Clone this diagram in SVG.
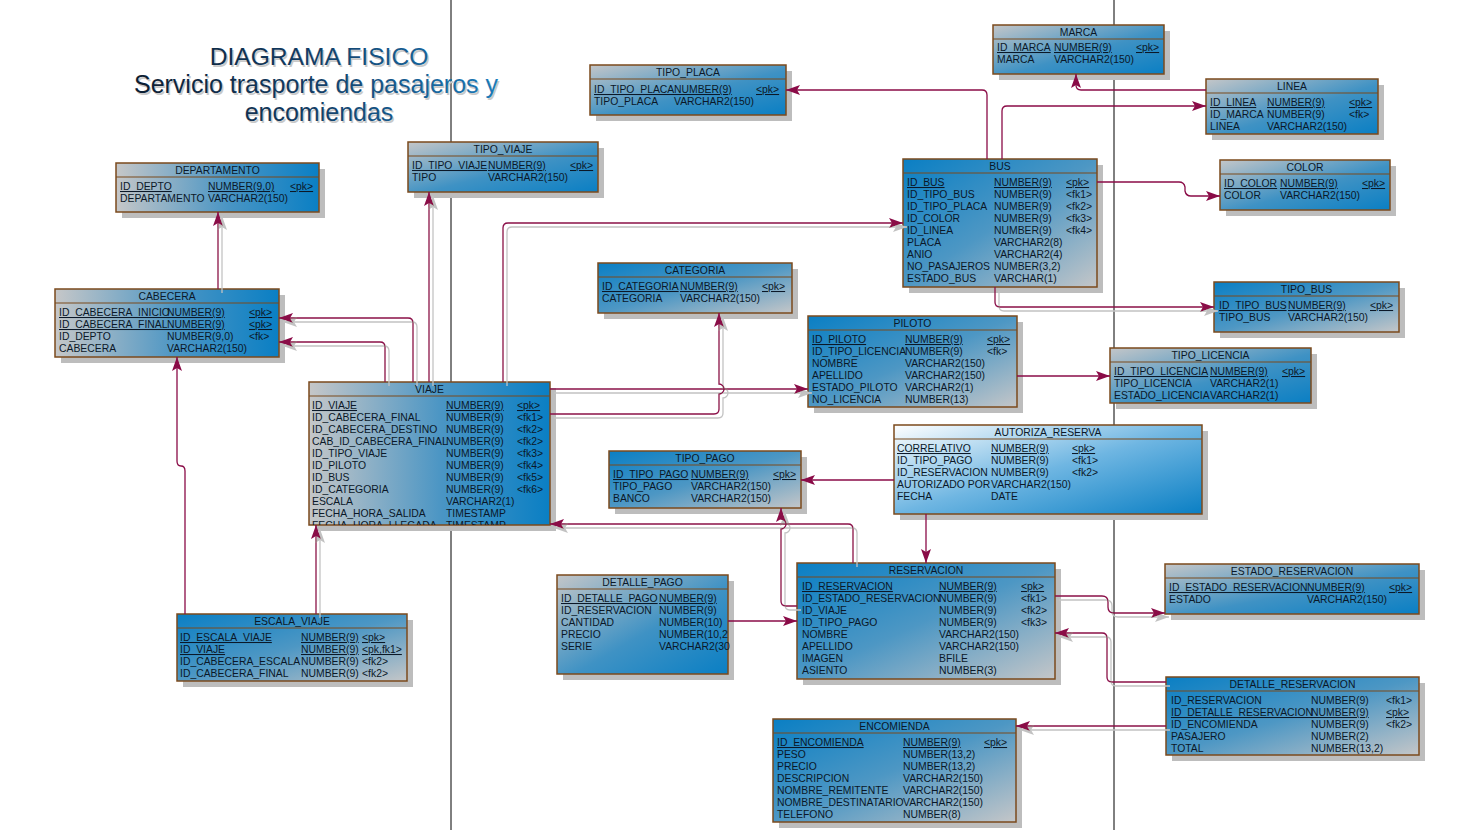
<svg xmlns="http://www.w3.org/2000/svg" width="1474" height="830" viewBox="0 0 1474 830">
<defs>
<style>
.box{stroke:#7b4a1c;stroke-width:1.5}
.sh{fill:#bdbdbd}
.sep{stroke:#7b4a1c;stroke-width:1.2}
text{font-family:"Liberation Sans",Arial,sans-serif;font-size:10.4px;fill:#0b1828}
.hd{text-anchor:middle}
.u{text-decoration:underline}
.cn{fill:none;stroke:#8a0b47;stroke-width:1.3;marker-end:url(#ar)}
.ttl{font-size:24.6px;text-anchor:middle;fill:url(#tg)}
.tsh{font-size:24.6px;text-anchor:middle;fill:#c9c9c9}
</style>
<linearGradient id="gH" x1="0" y1="0" x2="1" y2="0"><stop offset="0" stop-color="#c6c7c8"/><stop offset="0.55" stop-color="#4a95c4"/><stop offset="1" stop-color="#0a7fc4"/></linearGradient>
<linearGradient id="gGB" x1="0" y1="0" x2="1" y2="1"><stop offset="0" stop-color="#c4c6c8"/><stop offset="0.55" stop-color="#3f92c4"/><stop offset="1" stop-color="#0a7fc4"/></linearGradient>
<linearGradient id="gBG" x1="0" y1="0" x2="1" y2="1"><stop offset="0" stop-color="#0a7fc4"/><stop offset="0.5" stop-color="#4d97c4"/><stop offset="1" stop-color="#c4c6c8"/></linearGradient>
<linearGradient id="gW" x1="0" y1="0" x2="1" y2="1"><stop offset="0" stop-color="#ffffff"/><stop offset="0.5" stop-color="#6fb6e2"/><stop offset="1" stop-color="#0a7fc4"/></linearGradient>
<linearGradient id="tg" gradientUnits="userSpaceOnUse" x1="130" y1="0" x2="500" y2="0"><stop offset="0" stop-color="#0b1d30"/><stop offset="0.5" stop-color="#123e66"/><stop offset="1" stop-color="#1a7cbc"/></linearGradient>
<marker id="ar" viewBox="0 0 14 10" refX="14" refY="5" markerWidth="14" markerHeight="10" markerUnits="userSpaceOnUse" orient="auto"><path d="M0,0 L14,5 L0,10 L3,5 Z" fill="#8a0b47"/></marker>
<filter id="lsh" filterUnits="userSpaceOnUse" x="0" y="0" width="1474" height="830">
<feOffset in="SourceAlpha" dx="4" dy="4" result="o"/>
<feFlood flood-color="#c2c2c2"/>
<feComposite in2="o" operator="in" result="s"/>
<feMerge><feMergeNode in="s"/><feMergeNode in="SourceGraphic"/></feMerge>
</filter>
<clipPath id="cv"><rect x="309" y="382" width="241" height="143"/></clipPath>
</defs>
<rect width="1474" height="830" fill="#ffffff"/>
<g id="dividers" stroke="#000" stroke-width="1">
<line x1="451" y1="0" x2="451" y2="830"/>
<line x1="1114" y1="0" x2="1114" y2="830"/>
</g>
<g id="title">
<text class="tsh" x="320.5" y="67">DIAGRAMA FISICO</text>
<text class="tsh" x="317.5" y="95" style="font-size:25px">Servicio trasporte de pasajeros y</text>
<text class="tsh" x="320.5" y="123" style="font-size:25px">encomiendas</text>
<text class="ttl" x="319" y="65">DIAGRAMA FISICO</text>
<text class="ttl" x="316" y="93" style="font-size:25px">Servicio trasporte de pasajeros y</text>
<text class="ttl" x="319" y="121" style="font-size:25px">encomiendas</text>
</g>

<g id="DEPARTAMENTO">
<rect class="sh" x="122" y="169" width="203" height="49"/>
<rect class="box" x="116" y="163" width="203" height="49" fill="url(#gH)"/>
<line class="sep" x1="116" y1="177" x2="319" y2="177"/>
<text class="hd" x="217.5" y="173.5">DEPARTAMENTO</text>
<text class="u" x="120" y="190">ID_DEPTO</text><text class="u" x="208" y="190">NUMBER(9,0)</text><text class="u" x="290" y="190">&lt;pk&gt;</text>
<text x="120" y="202">DEPARTAMENTO</text><text x="208" y="202">VARCHAR2(150)</text>
</g>

<g id="TIPO_VIAJE">
<rect class="sh" x="414" y="148" width="190" height="50"/>
<rect class="box" x="408" y="142" width="190" height="50" fill="url(#gGB)"/>
<line class="sep" x1="408" y1="156" x2="598" y2="156"/>
<text class="hd" x="503" y="152.5">TIPO_VIAJE</text>
<text class="u" x="412" y="169">ID_TIPO_VIAJE</text><text class="u" x="488" y="169">NUMBER(9)</text><text class="u" x="570" y="169">&lt;pk&gt;</text>
<text x="412" y="181">TIPO</text><text x="488" y="181">VARCHAR2(150)</text>
</g>

<g id="TIPO_PLACA">
<rect class="sh" x="596" y="71" width="196" height="50"/>
<rect class="box" x="590" y="65" width="196" height="50" fill="url(#gGB)"/>
<line class="sep" x1="590" y1="79" x2="786" y2="79"/>
<text class="hd" x="688" y="75.5">TIPO_PLACA</text>
<text class="u" x="594" y="93">ID_TIPO_PLACA</text><text class="u" x="674" y="93">NUMBER(9)</text><text class="u" x="756" y="93">&lt;pk&gt;</text>
<text x="594" y="105">TIPO_PLACA</text><text x="674" y="105">VARCHAR2(150)</text>
</g>

<g id="MARCA">
<rect class="sh" x="999" y="31" width="171" height="49"/>
<rect class="box" x="993" y="25" width="171" height="49" fill="url(#gGB)"/>
<line class="sep" x1="993" y1="39" x2="1164" y2="39"/>
<text class="hd" x="1078.5" y="35.5">MARCA</text>
<text class="u" x="997" y="51">ID_MARCA</text><text class="u" x="1054" y="51">NUMBER(9)</text><text class="u" x="1136" y="51">&lt;pk&gt;</text>
<text x="997" y="63">MARCA</text><text x="1054" y="63">VARCHAR2(150)</text>
</g>

<g id="LINEA">
<rect class="sh" x="1212" y="85" width="172" height="55"/>
<rect class="box" x="1206" y="79" width="172" height="55" fill="url(#gGB)"/>
<line class="sep" x1="1206" y1="93" x2="1378" y2="93"/>
<text class="hd" x="1292" y="89.5">LINEA</text>
<text class="u" x="1210" y="106">ID_LINEA</text><text class="u" x="1267" y="106">NUMBER(9)</text><text class="u" x="1349" y="106">&lt;pk&gt;</text>
<text x="1210" y="118">ID_MARCA</text><text x="1267" y="118">NUMBER(9)</text><text x="1349" y="118">&lt;fk&gt;</text>
<text x="1210" y="130">LINEA</text><text x="1267" y="130">VARCHAR2(150)</text>
</g>

<g id="BUS">
<rect class="sh" x="909" y="165" width="194" height="128"/>
<rect class="box" x="903" y="159" width="194" height="128" fill="url(#gBG)"/>
<line class="sep" x1="903" y1="173" x2="1097" y2="173"/>
<text class="hd" x="1000" y="169.5">BUS</text>
<text class="u" x="907" y="186">ID_BUS</text><text class="u" x="994" y="186">NUMBER(9)</text><text class="u" x="1066" y="186">&lt;pk&gt;</text>
<text x="907" y="198">ID_TIPO_BUS</text><text x="994" y="198">NUMBER(9)</text><text x="1066" y="198">&lt;fk1&gt;</text>
<text x="907" y="210">ID_TIPO_PLACA</text><text x="994" y="210">NUMBER(9)</text><text x="1066" y="210">&lt;fk2&gt;</text>
<text x="907" y="222">ID_COLOR</text><text x="994" y="222">NUMBER(9)</text><text x="1066" y="222">&lt;fk3&gt;</text>
<text x="907" y="234">ID_LINEA</text><text x="994" y="234">NUMBER(9)</text><text x="1066" y="234">&lt;fk4&gt;</text>
<text x="907" y="246">PLACA</text><text x="994" y="246">VARCHAR2(8)</text>
<text x="907" y="258">ANIO</text><text x="994" y="258">VARCHAR2(4)</text>
<text x="907" y="270">NO_PASAJEROS</text><text x="994" y="270">NUMBER(3,2)</text>
<text x="907" y="282">ESTADO_BUS</text><text x="994" y="282">VARCHAR(1)</text>
</g>

<g id="COLOR">
<rect class="sh" x="1226" y="166" width="170" height="50"/>
<rect class="box" x="1220" y="160" width="170" height="50" fill="url(#gGB)"/>
<line class="sep" x1="1220" y1="174" x2="1390" y2="174"/>
<text class="hd" x="1305" y="170.5">COLOR</text>
<text class="u" x="1224" y="187">ID_COLOR</text><text class="u" x="1280" y="187">NUMBER(9)</text><text class="u" x="1362" y="187">&lt;pk&gt;</text>
<text x="1224" y="199">COLOR</text><text x="1280" y="199">VARCHAR2(150)</text>
</g>

<g id="TIPO_BUS">
<rect class="sh" x="1220" y="288" width="185" height="50"/>
<rect class="box" x="1214" y="282" width="185" height="50" fill="url(#gBG)"/>
<line class="sep" x1="1214" y1="296" x2="1399" y2="296"/>
<text class="hd" x="1306.5" y="292.5">TIPO_BUS</text>
<text class="u" x="1219" y="309">ID_TIPO_BUS</text><text class="u" x="1288" y="309">NUMBER(9)</text><text class="u" x="1370" y="309">&lt;pk&gt;</text>
<text x="1219" y="321">TIPO_BUS</text><text x="1288" y="321">VARCHAR2(150)</text>
</g>

<g id="TIPO_LICENCIA">
<rect class="sh" x="1116" y="354" width="201" height="55"/>
<rect class="box" x="1110" y="348" width="201" height="55" fill="url(#gGB)"/>
<line class="sep" x1="1110" y1="362" x2="1311" y2="362"/>
<text class="hd" x="1210.5" y="358.5">TIPO_LICENCIA</text>
<text class="u" x="1114" y="375">ID_TIPO_LICENCIA</text><text class="u" x="1210" y="375">NUMBER(9)</text><text class="u" x="1282" y="375">&lt;pk&gt;</text>
<text x="1114" y="387">TIPO_LICENCIA</text><text x="1210" y="387">VARCHAR2(1)</text>
<text x="1114" y="399">ESTADO_LICENCIA</text><text x="1210" y="399">VARCHAR2(1)</text>
</g>

<g id="CATEGORIA">
<rect class="sh" x="604" y="269" width="194" height="50"/>
<rect class="box" x="598" y="263" width="194" height="50" fill="url(#gBG)"/>
<line class="sep" x1="598" y1="277" x2="792" y2="277"/>
<text class="hd" x="695" y="273.5">CATEGORIA</text>
<text class="u" x="602" y="290">ID_CATEGORIA</text><text class="u" x="680" y="290">NUMBER(9)</text><text class="u" x="762" y="290">&lt;pk&gt;</text>
<text x="602" y="302">CATEGORIA</text><text x="680" y="302">VARCHAR2(150)</text>
</g>

<g id="PILOTO">
<rect class="sh" x="814" y="322" width="209" height="91"/>
<rect class="box" x="808" y="316" width="209" height="91" fill="url(#gBG)"/>
<line class="sep" x1="808" y1="330" x2="1017" y2="330"/>
<text class="hd" x="912.5" y="326.5">PILOTO</text>
<text class="u" x="812" y="343">ID_PILOTO</text><text class="u" x="905" y="343">NUMBER(9)</text><text class="u" x="987" y="343">&lt;pk&gt;</text>
<text x="812" y="355">ID_TIPO_LICENCIA</text><text x="905" y="355">NUMBER(9)</text><text x="987" y="355">&lt;fk&gt;</text>
<text x="812" y="367">NOMBRE</text><text x="905" y="367">VARCHAR2(150)</text>
<text x="812" y="379">APELLIDO</text><text x="905" y="379">VARCHAR2(150)</text>
<text x="812" y="391">ESTADO_PILOTO</text><text x="905" y="391">VARCHAR2(1)</text>
<text x="812" y="403">NO_LICENCIA</text><text x="905" y="403">NUMBER(13)</text>
</g>

<g id="CABECERA">
<rect class="sh" x="61" y="295" width="224" height="68"/>
<rect class="box" x="55" y="289" width="224" height="68" fill="url(#gH)"/>
<line class="sep" x1="55" y1="303" x2="279" y2="303"/>
<text class="hd" x="167" y="299.5">CABECERA</text>
<text class="u" x="59" y="316">ID_CABECERA_INICIO</text><text class="u" x="167" y="316">NUMBER(9)</text><text class="u" x="249" y="316">&lt;pk&gt;</text>
<text class="u" x="59" y="328">ID_CABECERA_FINAL</text><text class="u" x="167" y="328">NUMBER(9)</text><text class="u" x="249" y="328">&lt;pk&gt;</text>
<text x="59" y="340">ID_DEPTO</text><text x="167" y="340">NUMBER(9,0)</text><text x="249" y="340">&lt;fk&gt;</text>
<text x="59" y="352">CABECERA</text><text x="167" y="352">VARCHAR2(150)</text>
</g>

<g id="VIAJE">
<rect class="sh" x="315" y="388" width="241" height="143"/>
<rect class="box" x="309" y="382" width="241" height="143" fill="url(#gH)"/>
<line class="sep" x1="309" y1="396" x2="550" y2="396"/>
<text class="hd" x="429.5" y="392.5">VIAJE</text>
<text class="u" x="312" y="409">ID_VIAJE</text><text class="u" x="446" y="409">NUMBER(9)</text><text class="u" x="517" y="409">&lt;pk&gt;</text>
<text x="312" y="421">ID_CABECERA_FINAL</text><text x="446" y="421">NUMBER(9)</text><text x="517" y="421">&lt;fk1&gt;</text>
<text x="312" y="433">ID_CABECERA_DESTINO</text><text x="446" y="433">NUMBER(9)</text><text x="517" y="433">&lt;fk2&gt;</text>
<text x="312" y="445">CAB_ID_CABECERA_FINAL</text><text x="446" y="445">NUMBER(9)</text><text x="517" y="445">&lt;fk2&gt;</text>
<text x="312" y="457">ID_TIPO_VIAJE</text><text x="446" y="457">NUMBER(9)</text><text x="517" y="457">&lt;fk3&gt;</text>
<text x="312" y="469">ID_PILOTO</text><text x="446" y="469">NUMBER(9)</text><text x="517" y="469">&lt;fk4&gt;</text>
<text x="312" y="481">ID_BUS</text><text x="446" y="481">NUMBER(9)</text><text x="517" y="481">&lt;fk5&gt;</text>
<text x="312" y="493">ID_CATEGORIA</text><text x="446" y="493">NUMBER(9)</text><text x="517" y="493">&lt;fk6&gt;</text>
<text x="312" y="505">ESCALA</text><text x="446" y="505">VARCHAR2(1)</text>
<text x="312" y="517">FECHA_HORA_SALIDA</text><text x="446" y="517">TIMESTAMP</text>
<g clip-path="url(#cv)"><text x="312" y="529">FECHA_HORA_LLEGADA</text><text x="446" y="529">TIMESTAMP</text></g>
</g>

<g id="TIPO_PAGO">
<rect class="sh" x="615" y="457" width="192" height="57"/>
<rect class="box" x="609" y="451" width="192" height="57" fill="url(#gBG)"/>
<line class="sep" x1="609" y1="465" x2="801" y2="465"/>
<text class="hd" x="705" y="461.5">TIPO_PAGO</text>
<text class="u" x="613" y="478">ID_TIPO_PAGO</text><text class="u" x="691" y="478">NUMBER(9)</text><text class="u" x="773" y="478">&lt;pk&gt;</text>
<text x="613" y="490">TIPO_PAGO</text><text x="691" y="490">VARCHAR2(150)</text>
<text x="613" y="502">BANCO</text><text x="691" y="502">VARCHAR2(150)</text>
</g>

<g id="AUTORIZA_RESERVA">
<rect class="sh" x="900" y="431" width="308" height="89"/>
<rect class="box" x="894" y="425" width="308" height="89" fill="url(#gW)"/>
<line class="sep" x1="894" y1="439" x2="1202" y2="439"/>
<text class="hd" x="1048" y="435.5">AUTORIZA_RESERVA</text>
<text class="u" x="897" y="452">CORRELATIVO</text><text class="u" x="991" y="452">NUMBER(9)</text><text class="u" x="1072" y="452">&lt;pk&gt;</text>
<text x="897" y="464">ID_TIPO_PAGO</text><text x="991" y="464">NUMBER(9)</text><text x="1072" y="464">&lt;fk1&gt;</text>
<text x="897" y="476">ID_RESERVACION</text><text x="991" y="476">NUMBER(9)</text><text x="1072" y="476">&lt;fk2&gt;</text>
<text x="897" y="488">AUTORIZADO POR</text><text x="991" y="488">VARCHAR2(150)</text>
<text x="897" y="500">FECHA</text><text x="991" y="500">DATE</text>
</g>

<g id="DETALLE_PAGO">
<rect class="sh" x="563" y="581" width="171" height="99"/>
<rect class="box" x="557" y="575" width="171" height="99" fill="url(#gGB)"/>
<line class="sep" x1="557" y1="589" x2="728" y2="589"/>
<text class="hd" x="642.5" y="585.5">DETALLE_PAGO</text>
<text class="u" x="561" y="602">ID_DETALLE_PAGO</text><text class="u" x="659" y="602">NUMBER(9)</text>
<text x="561" y="614">ID_RESERVACION</text><text x="659" y="614">NUMBER(9)</text>
<text x="561" y="626">CANTIDAD</text><text x="659" y="626">NUMBER(10)</text>
<text x="561" y="638">PRECIO</text><text x="659" y="638">NUMBER(10,2</text>
<text x="561" y="650">SERIE</text><text x="659" y="650">VARCHAR2(30</text>
</g>

<g id="RESERVACION">
<rect class="sh" x="803" y="569" width="258" height="116"/>
<rect class="box" x="797" y="563" width="258" height="116" fill="url(#gBG)"/>
<line class="sep" x1="797" y1="577" x2="1055" y2="577"/>
<text class="hd" x="926" y="573.5">RESERVACION</text>
<text class="u" x="802" y="590">ID_RESERVACION</text><text class="u" x="939" y="590">NUMBER(9)</text><text class="u" x="1021" y="590">&lt;pk&gt;</text>
<text x="802" y="602">ID_ESTADO_RESERVACION</text><text x="939" y="602">NUMBER(9)</text><text x="1021" y="602">&lt;fk1&gt;</text>
<text x="802" y="614">ID_VIAJE</text><text x="939" y="614">NUMBER(9)</text><text x="1021" y="614">&lt;fk2&gt;</text>
<text x="802" y="626">ID_TIPO_PAGO</text><text x="939" y="626">NUMBER(9)</text><text x="1021" y="626">&lt;fk3&gt;</text>
<text x="802" y="638">NOMBRE</text><text x="939" y="638">VARCHAR2(150)</text>
<text x="802" y="650">APELLIDO</text><text x="939" y="650">VARCHAR2(150)</text>
<text x="802" y="662">IMAGEN</text><text x="939" y="662">BFILE</text>
<text x="802" y="674">ASIENTO</text><text x="939" y="674">NUMBER(3)</text>
</g>

<g id="ESTADO_RESERVACION">
<rect class="sh" x="1171" y="570" width="254" height="50"/>
<rect class="box" x="1165" y="564" width="254" height="50" fill="url(#gGB)"/>
<line class="sep" x1="1165" y1="578" x2="1419" y2="578"/>
<text class="hd" x="1292" y="574.5">ESTADO_RESERVACION</text>
<text class="u" x="1169" y="591">ID_ESTADO_RESERVACION</text><text class="u" x="1307" y="591">NUMBER(9)</text><text class="u" x="1389" y="591">&lt;pk&gt;</text>
<text x="1169" y="603">ESTADO</text><text x="1307" y="603">VARCHAR2(150)</text>
</g>

<g id="DETALLE_RESERVACION">
<rect class="sh" x="1172" y="683" width="253" height="78"/>
<rect class="box" x="1166" y="677" width="253" height="78" fill="url(#gBG)"/>
<line class="sep" x1="1166" y1="691" x2="1419" y2="691"/>
<text class="hd" x="1292.5" y="687.5">DETALLE_RESERVACION</text>
<text x="1171" y="704">ID_RESERVACION</text><text x="1311" y="704">NUMBER(9)</text><text x="1386" y="704">&lt;fk1&gt;</text>
<text class="u" x="1171" y="716">ID_DETALLE_RESERVACION</text><text class="u" x="1311" y="716">NUMBER(9)</text><text class="u" x="1386" y="716">&lt;pk&gt;</text>
<text x="1171" y="728">ID_ENCOMIENDA</text><text x="1311" y="728">NUMBER(9)</text><text x="1386" y="728">&lt;fk2&gt;</text>
<text x="1171" y="740">PASAJERO</text><text x="1311" y="740">NUMBER(2)</text>
<text x="1171" y="752">TOTAL</text><text x="1311" y="752">NUMBER(13,2)</text>
</g>

<g id="ESCALA_VIAJE">
<rect class="sh" x="183" y="620" width="230" height="67"/>
<rect class="box" x="177" y="614" width="230" height="67" fill="url(#gBG)"/>
<line class="sep" x1="177" y1="628" x2="407" y2="628"/>
<text class="hd" x="292" y="624.5">ESCALA_VIAJE</text>
<text class="u" x="180" y="641">ID_ESCALA_VIAJE</text><text class="u" x="301" y="641">NUMBER(9)</text><text class="u" x="362" y="641">&lt;pk&gt;</text>
<text class="u" x="180" y="653">ID_VIAJE</text><text class="u" x="301" y="653">NUMBER(9)</text><text class="u" x="362" y="653">&lt;pk,fk1&gt;</text>
<text x="180" y="665">ID_CABECERA_ESCALA</text><text x="301" y="665">NUMBER(9)</text><text x="362" y="665">&lt;fk2&gt;</text>
<text x="180" y="677">ID_CABECERA_FINAL</text><text x="301" y="677">NUMBER(9)</text><text x="362" y="677">&lt;fk2&gt;</text>
</g>

<g id="ENCOMIENDA">
<rect class="sh" x="779" y="725" width="243" height="103"/>
<rect class="box" x="773" y="719" width="243" height="103" fill="url(#gBG)"/>
<line class="sep" x1="773" y1="733" x2="1016" y2="733"/>
<text class="hd" x="894.5" y="729.5">ENCOMIENDA</text>
<text class="u" x="777" y="746">ID_ENCOMIENDA</text><text class="u" x="903" y="746">NUMBER(9)</text><text class="u" x="984" y="746">&lt;pk&gt;</text>
<text x="777" y="758">PESO</text><text x="903" y="758">NUMBER(13,2)</text>
<text x="777" y="770">PRECIO</text><text x="903" y="770">NUMBER(13,2)</text>
<text x="777" y="782">DESCRIPCION</text><text x="903" y="782">VARCHAR2(150)</text>
<text x="777" y="794">NOMBRE_REMITENTE</text><text x="903" y="794">VARCHAR2(150)</text>
<text x="777" y="806">NOMBRE_DESTINATARIO</text><text x="903" y="806">VARCHAR2(150)</text>
<text x="777" y="818">TELEFONO</text><text x="903" y="818">NUMBER(8)</text>
</g>

<g id="connectors">
<g id="shadowed" filter="url(#lsh)">
<path class="cn" d="M218,289 V212"/>
<path class="cn" d="M429,382 V192"/>
<path class="cn" d="M413,382 V323 Q413,318 408,318 H279"/>
<path class="cn" d="M385,382 V347 Q385,342 380,342 H279"/>
<path class="cn" d="M503,382 V228 Q503,223 508,223 H903"/>
<path class="cn" d="M550,389 H808"/>
<path class="cn" d="M550,414 H714 Q719,414 719,409 V394 A5,5 0 0 0 719,384 V313"/>
<path class="cn" d="M995,287 V302 Q995,307 1000,307 H1214"/>
<path class="cn" d="M853,563 V529 Q853,524 848,524 H550"/>
<path class="cn" d="M797,606 H786 Q781,606 781,601 V529 A5,5 0 0 0 781,519 V508"/>
<path class="cn" d="M1055,596 H1102 Q1108,596 1108,602 V607 Q1108,613 1114,613 H1165"/>
<path class="cn" d="M1166,682 H1112 Q1107,682 1107,677 V638 Q1107,633 1102,633 H1055"/>
<path class="cn" d="M1166,726 H1016"/>
<path class="cn" d="M316,614 V525"/>
</g>
<g id="plain">
<path class="cn" d="M185,614 V471 Q185,466 181,466 Q177,466 177,461 V357"/>
<path class="cn" d="M987,159 V95 Q987,90 982,90 H786"/>
<path class="cn" d="M1002,159 V111 Q1002,106 1007,106 H1206"/>
<path class="cn" d="M1206,90 H1081 Q1076,90 1076,85 V74"/>
<path class="cn" d="M1097,182 H1179 Q1184,182 1185,187 V191 Q1186,196 1191,196 H1220"/>
<path class="cn" d="M1017,376 H1110"/>
<path class="cn" d="M894,480 H801"/>
<path class="cn" d="M926,514 V563"/>
<path class="cn" d="M728,621 H797"/>
</g>
</g>
</svg>
